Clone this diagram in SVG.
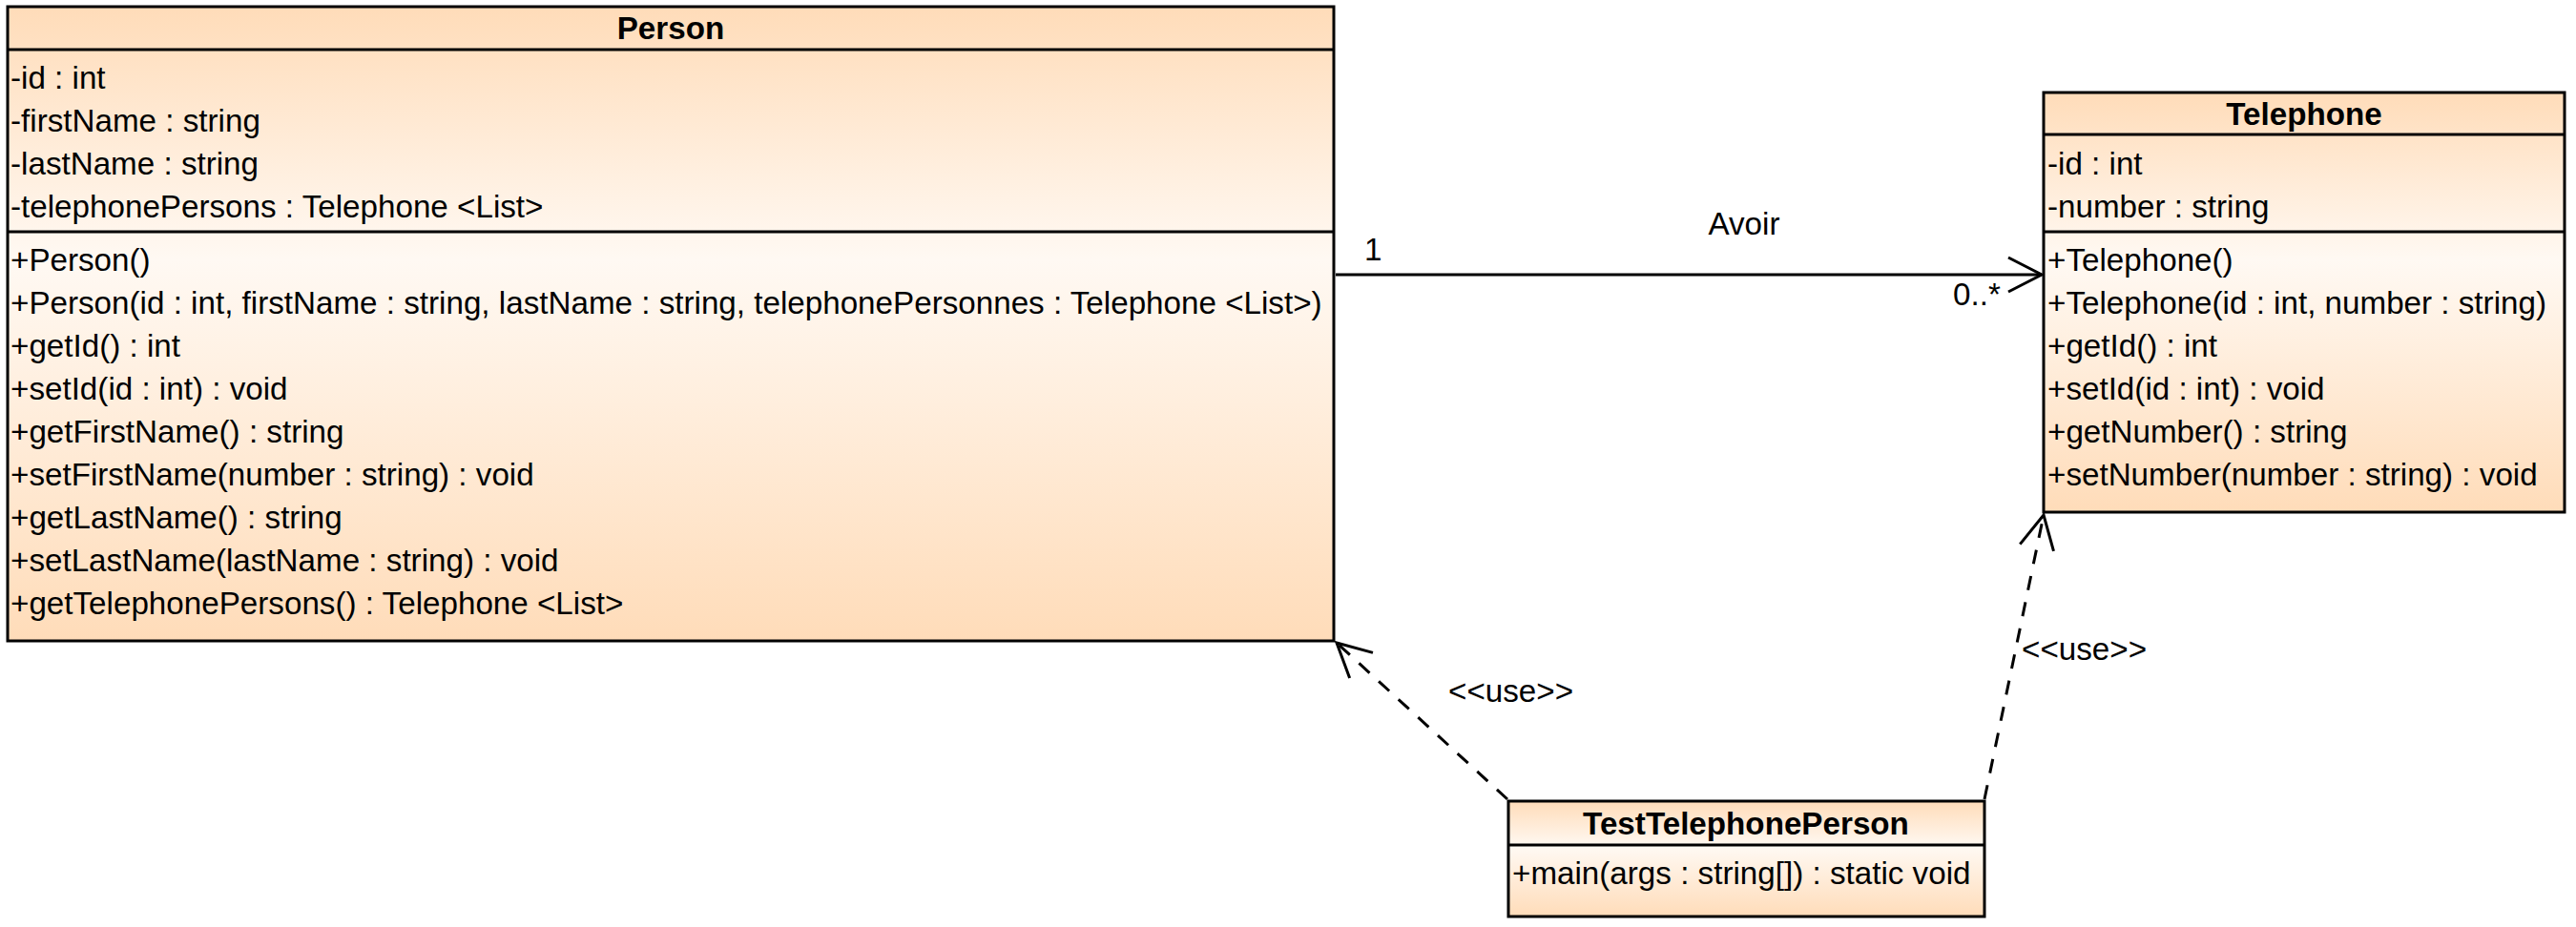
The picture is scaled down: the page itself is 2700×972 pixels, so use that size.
<svg xmlns="http://www.w3.org/2000/svg" width="2700" height="972" viewBox="0 0 2700 972">
<defs>
<linearGradient id="fill" x1="0" y1="0" x2="0" y2="1">
<stop offset="0" stop-color="#FFDCB9"/>
<stop offset="0.4" stop-color="#FFF9F3"/>
<stop offset="1" stop-color="#FFDCB9"/>
</linearGradient>
<marker id="open" viewBox="-40 -22 46 44" markerWidth="46" markerHeight="44" refX="0" refY="0" markerUnits="userSpaceOnUse" orient="auto">
<path d="M-35,-18 L0,0 L-35,18" fill="none" stroke="#000" stroke-width="3" stroke-dasharray="none"/>
</marker>
<style>
.box{fill:url(#fill);stroke:#000;stroke-width:3}
.sep{stroke:#000;stroke-width:3}
text{font-family:"Liberation Sans",Arial,sans-serif;font-size:33.2px;fill:#000}
.title{font-weight:bold;text-anchor:middle}
.edge{fill:none;stroke:#000;stroke-width:3}
.dash{stroke-dasharray:15 13}
</style>
</defs>
<rect width="2700" height="972" fill="#fff"/>
<g id="connectors">
<line class="edge" x1="1400" y1="288" x2="2140" y2="288" marker-end="url(#open)"/>
<line class="edge dash" x1="1580" y1="838" x2="1401" y2="674" marker-end="url(#open)"/>
<line class="edge dash" x1="2080" y1="838" x2="2142" y2="540" marker-end="url(#open)"/>
<text x="1828" y="246" text-anchor="middle">Avoir</text>
<text x="1430" y="273">1</text>
<text x="2047" y="320">0..*</text>
<text x="1518" y="736">&lt;&lt;use&gt;&gt;</text>
<text x="2119" y="692">&lt;&lt;use&gt;&gt;</text>
</g>
<g id="person">
<rect class="box" x="8" y="7" width="1390" height="665"/>
<line class="sep" x1="8" y1="52" x2="1398" y2="52"/>
<line class="sep" x1="8" y1="243" x2="1398" y2="243"/>
<text class="title" x="703" y="41">Person</text>
<text x="11" y="93">-id : int</text>
<text x="11" y="138">-firstName : string</text>
<text x="11" y="183">-lastName : string</text>
<text x="11" y="228">-telephonePersons : Telephone &lt;List&gt;</text>
<text x="11" y="284">+Person()</text>
<text x="11" y="329">+Person(id : int, firstName : string, lastName : string, telephonePersonnes : Telephone &lt;List&gt;)</text>
<text x="11" y="374">+getId() : int</text>
<text x="11" y="419">+setId(id : int) : void</text>
<text x="11" y="464">+getFirstName() : string</text>
<text x="11" y="509">+setFirstName(number : string) : void</text>
<text x="11" y="554">+getLastName() : string</text>
<text x="11" y="599">+setLastName(lastName : string) : void</text>
<text x="11" y="644">+getTelephonePersons() : Telephone &lt;List&gt;</text>
</g>
<g id="telephone">
<rect class="box" x="2142" y="97" width="546" height="440"/>
<line class="sep" x1="2142" y1="141" x2="2688" y2="141"/>
<line class="sep" x1="2142" y1="243" x2="2688" y2="243"/>
<text class="title" x="2415" y="131">Telephone</text>
<text x="2146" y="183">-id : int</text>
<text x="2146" y="228">-number : string</text>
<text x="2146" y="284">+Telephone()</text>
<text x="2146" y="329">+Telephone(id : int, number : string)</text>
<text x="2146" y="374">+getId() : int</text>
<text x="2146" y="419">+setId(id : int) : void</text>
<text x="2146" y="464">+getNumber() : string</text>
<text x="2146" y="509">+setNumber(number : string) : void</text>
</g>
<g id="testTelephonePerson">
<rect class="box" x="1581" y="840" width="499" height="121"/>
<line class="sep" x1="1581" y1="886" x2="2080" y2="886"/>
<text class="title" x="1830" y="875">TestTelephonePerson</text>
<text x="1585" y="927">+main(args : string[]) : static void</text>
</g>
</svg>
